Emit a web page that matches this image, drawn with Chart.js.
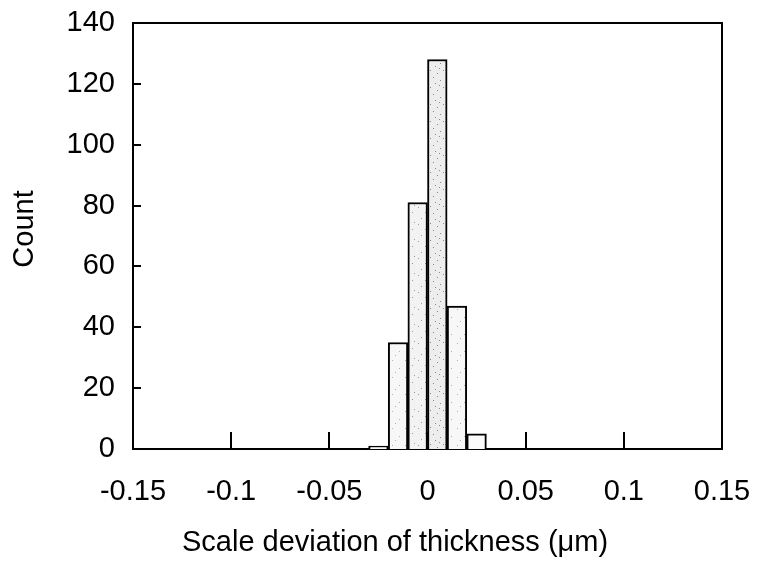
<!DOCTYPE html>
<html>
<head>
<meta charset="utf-8">
<script src="https://cdn.jsdelivr.net/npm/chart.js@4"></script>
<style>
  html, body { margin: 0; padding: 0; background: #fff; }
  #wrap { width: 768px; height: 565px; }
</style>
</head>
<body>
<div id="wrap"><canvas id="histChart" width="768" height="565"></canvas></div>
<script>
// histogram bins (centre of each 0.01 wide bin) and their counts
const binCenters = [-0.025, -0.015, -0.005, 0.005, 0.015, 0.025];
const binCounts = [1, 35, 81, 128, 47, 5];
const xTickLabels = ['-0.15', '-0.1', '-0.05', '0', '0.05', '0.1', '0.15'];
const yTickLabels = ['0', '20', '40', '60', '80', '100', '120', '140'];
const xTitle = 'Scale deviation of thickness (\u03bcm)';
const yTitle = 'Count';

const FONT = '"Liberation Sans", Arial, sans-serif';
const FONT_SIZE = 29;

// light stipple fill for the bars, dots at fixed spots in a small tile
function stipple(base, dot, spots) {
    const tile = document.createElement('canvas');
    tile.width = 13;
    tile.height = 17;
    const t = tile.getContext('2d');
    t.fillStyle = base;
    t.fillRect(0, 0, 13, 17);
    t.fillStyle = dot;
    spots.forEach(([x, y]) => t.fillRect(x, y, 1, 1));
    return t.createPattern(tile, 'repeat');
}
const lightFill = stipple('#f7f7f7', '#b0b0b0', [[2, 3], [9, 11], [5, 15]]);
const midFill = stipple('#f2f2f2', '#9a9a9a', [[2, 3], [9, 8], [5, 14], [11, 1]]);
const denseFill = stipple('#ededed', '#8a8a8a', [[1, 2], [8, 5], [4, 9], [11, 12], [6, 15], [10, 0]]);

// tick marks point into the plot, and the frame is closed on top/right
const frameAndTicks = {
    id: 'frameAndTicks',
    afterDatasetsDraw(chart) {
        const ctx = chart.ctx;
        const area = chart.chartArea;
        const xs = chart.scales.x;
        const ys = chart.scales.y;
        ctx.save();
        ctx.strokeStyle = '#000';
        ctx.lineWidth = 2;
        ctx.beginPath();
        ys.ticks.forEach(t => {
            const py = Math.round(ys.getPixelForValue(t.value));
            ctx.moveTo(area.left, py);
            ctx.lineTo(area.left + 8, py);
        });
        xs.ticks.forEach(t => {
            const px = Math.round(xs.getPixelForValue(t.value));
            ctx.moveTo(px, area.bottom);
            ctx.lineTo(px, area.bottom - 17);
        });
        ctx.moveTo(area.left, area.top);
        ctx.lineTo(area.right, area.top);
        ctx.lineTo(area.right, area.bottom);
        ctx.stroke();
        ctx.restore();
    }
};

// axis titles
const axisTitles = {
    id: 'axisTitles',
    afterDraw(chart) {
        const ctx = chart.ctx;
        const area = chart.chartArea;
        ctx.save();
        ctx.fillStyle = '#000';
        ctx.font = FONT_SIZE + 'px ' + FONT;
        ctx.textBaseline = 'alphabetic';
        ctx.textAlign = 'left';
        ctx.fillText(xTitle, 182, 551);
        ctx.translate(33, (area.top + area.bottom) / 2 - 7);
        ctx.rotate(-Math.PI / 2);
        ctx.textAlign = 'center';
        ctx.fillText(yTitle, 0, 0);
        ctx.restore();
    }
};

const ctx = document.getElementById('histChart').getContext('2d');
const histChart = new Chart(ctx, {
    type: 'bar',
    data: {
        datasets: [{
            data: binCenters.map((c, i) => ({ x: c, y: binCounts[i] })),
            backgroundColor: [lightFill, lightFill, midFill, denseFill, lightFill, '#fbfbfb'],
            borderColor: '#000',
            borderWidth: 2,
            barPercentage: 1,
            categoryPercentage: 1
        }]
    },
    options: {
        responsive: false,
        animation: false,
        layout: { padding: { top: 23, right: 46, left: 0, bottom: 0 } },
        plugins: {
            legend: { display: false },
            tooltip: { enabled: false }
        },
        scales: {
            x: {
                type: 'linear',
                min: -0.15,
                max: 0.15,
                offset: false,
                afterFit: (scale) => {
                    scale.height = 116;
                    scale.paddingLeft = 0;
                    scale.paddingRight = 0;
                },
                grid: { display: false, drawTicks: false },
                border: { display: true, color: '#000', width: 2 },
                ticks: {
                    stepSize: 0.05,
                    padding: 26,
                    color: '#000',
                    font: { family: FONT, size: FONT_SIZE },
                    maxRotation: 0,
                    callback: (v, i) => xTickLabels[i]
                }
            },
            y: {
                min: 0,
                max: 140,
                afterFit: (scale) => {
                    scale.width = 133;
                    scale.paddingTop = 0;
                    scale.paddingBottom = 0;
                },
                grid: { display: false, drawTicks: false },
                border: { display: true, color: '#000', width: 2 },
                ticks: {
                    stepSize: 20,
                    padding: 18,
                    color: '#000',
                    font: { family: FONT, size: FONT_SIZE },
                    callback: (v, i) => yTickLabels[i]
                }
            }
        }
    },
    plugins: [frameAndTicks, axisTitles]
});
</script>
</body>
</html>
